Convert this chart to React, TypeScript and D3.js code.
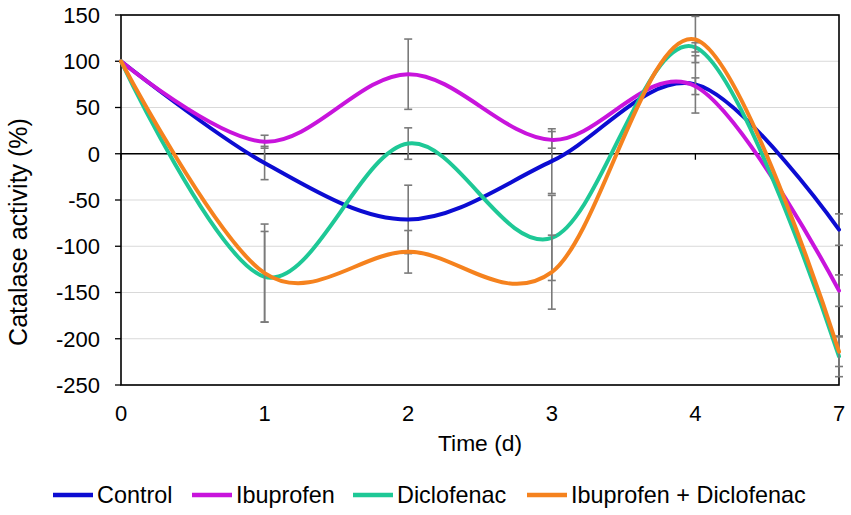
import * as d3 from "d3";
import React, { useEffect } from "react";

// days sampled (category axis, evenly spaced)
const days = ["0", "1", "2", "3", "4", "7"];

// catalase activity (%) per series, and error bar half-widths
const control = [100, -10, -71, -8, 75, -82];
const controlErr = [0, 18, 37, 35, 31, 17];
const ibuprofen = [100, 13, 86, 15, 73, -148];
const ibuprofenErr = [0, 7, 38, 9, 9, 17];
const diclofenac = [100, -133, 11, -91, 115, -219];
const diclofenacErr = [0, 49, 17, 46, 5, 22];
const combined = [100, -129, -106, -128, 123.5, -214];
const combinedErr = [0, 53, 23, 40, 25, 16];

const yTicks = [150, 100, 50, 0, -50, -100, -150, -200, -250];

const seriesNames = ["Control", "Ibuprofen", "Diclofenac", "Ibuprofen + Diclofenac"];
const seriesColors = ["#0c0cd2", "#c814dc", "#1ec896", "#f5821e"];

const width = 851;
const height = 515;
const plot = { left: 121, right: 839, top: 15, bottom: 385 };
const font = "'Liberation Sans', Arial, sans-serif";

const App: React.FC = () => {
  useEffect(() => {
    document.body.style.margin = "0";
  }, []);

  const x = d3.scalePoint<string>().domain(days).range([plot.left, plot.right]);
  const y = d3.scaleLinear().domain([-250, 150]).range([plot.bottom, plot.top]);

  const values = [control, ibuprofen, diclofenac, combined];
  const errors = [controlErr, ibuprofenErr, diclofenacErr, combinedErr];

  // Excel-style smoothed line
  const line = d3
    .line<number>()
    .x((_, i) => x(days[i])!)
    .y((d) => y(d))
    .curve(d3.curveCardinal.tension(0));

  // legend layout: line sample + label
  const legendX = [53, 192, 353, 527];

  return (
    <svg width={width} height={height} style={{ display: "block", background: "#fff" }}>
      {/* gridlines */}
      {yTicks.map((t) => (
        <line key={"g" + t} x1={plot.left} x2={plot.right} y1={y(t)} y2={y(t)} stroke="#d9d9d9" strokeWidth={1.2} />
      ))}

      {/* y tick marks + labels */}
      {yTicks.map((t) => (
        <g key={"t" + t}>
          <line x1={plot.left - 6} x2={plot.left} y1={y(t)} y2={y(t)} stroke="#000" strokeWidth={1.3} />
          <text x={100} y={y(t)} dy="0.36em" textAnchor="end" fontFamily={font} fontSize={22} fill="#000">
            {t}
          </text>
        </g>
      ))}

      {/* horizontal axis at zero with tick marks */}
      <line x1={plot.left} x2={plot.right} y1={y(0)} y2={y(0)} stroke="#000" strokeWidth={1.3} />
      {days.map((d) => (
        <line key={"xt" + d} x1={x(d)} x2={x(d)} y1={y(0)} y2={y(0) + 6} stroke="#000" strokeWidth={1.3} />
      ))}

      {/* plot border */}
      <rect
        x={plot.left}
        y={plot.top}
        width={plot.right - plot.left}
        height={plot.bottom - plot.top}
        fill="none"
        stroke="#000"
        strokeWidth={1.6}
      />

      {/* x labels */}
      {days.map((d) => (
        <text key={"xl" + d} x={x(d)} y={421} textAnchor="middle" fontFamily={font} fontSize={22} fill="#000">
          {d}
        </text>
      ))}

      {/* series: error bars then smoothed line */}
      {values.map((vals, s) => (
        <g key={"s" + s}>
          {vals.map((v, i) =>
            errors[s][i] > 0 ? (
              <g key={"e" + i} stroke="#7a7a7a" strokeWidth={1.6}>
                <line x1={x(days[i])} x2={x(days[i])} y1={y(v + errors[s][i])} y2={y(v - errors[s][i])} />
                <line x1={x(days[i])! - 4} x2={x(days[i])! + 4} y1={y(v + errors[s][i])} y2={y(v + errors[s][i])} />
                <line x1={x(days[i])! - 4} x2={x(days[i])! + 4} y1={y(v - errors[s][i])} y2={y(v - errors[s][i])} />
              </g>
            ) : null
          )}
          <path d={line(vals) || ""} fill="none" stroke={seriesColors[s]} strokeWidth={4} strokeLinecap="round" />
        </g>
      ))}

      {/* axis titles */}
      <text x={480} y={451} textAnchor="middle" fontFamily={font} fontSize={22.8} fill="#000">
        Time (d)
      </text>
      <text
        transform="translate(27,232) rotate(-90)"
        textAnchor="middle"
        fontFamily={font}
        fontSize={25}
        fill="#000"
      >
        Catalase activity (%)
      </text>

      {/* legend */}
      {seriesNames.map((n, i) => (
        <g key={"l" + n}>
          <line x1={legendX[i]} x2={legendX[i] + 40} y1={495} y2={495} stroke={seriesColors[i]} strokeWidth={4.5} />
          <text x={legendX[i] + 44} y={503} fontFamily={font} fontSize={23.4} fill="#000">
            {n}
          </text>
        </g>
      ))}
    </svg>
  );
};

export default App;
